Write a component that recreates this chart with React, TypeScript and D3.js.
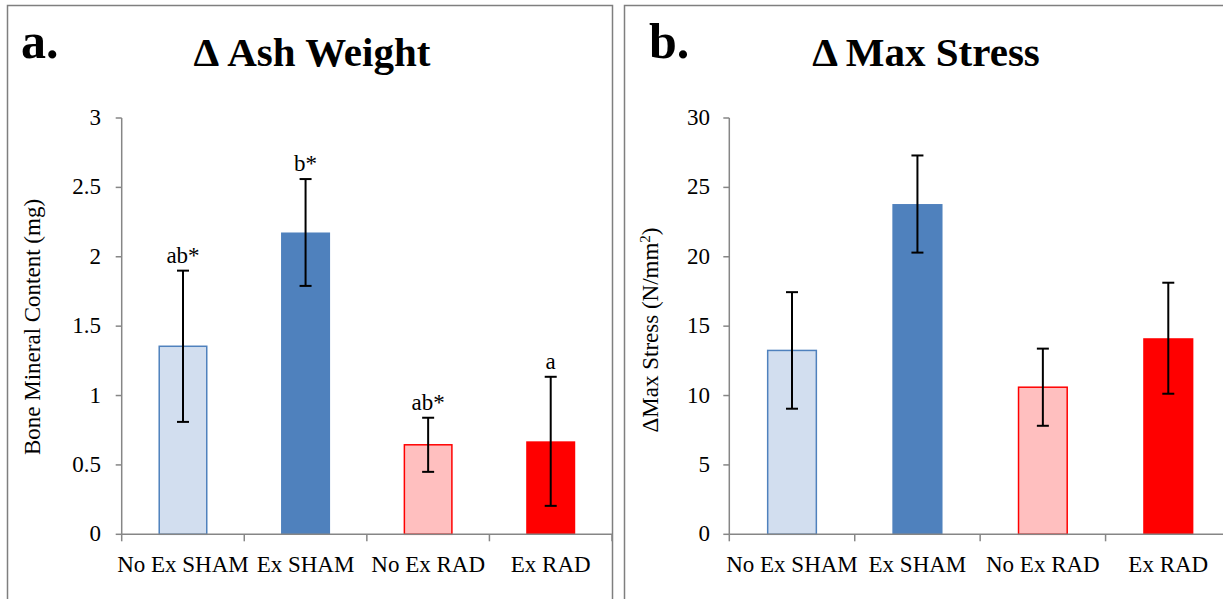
import React from "react";
import * as d3 from "d3";

const categories = ["No Ex SHAM", "Ex SHAM", "No Ex RAD", "Ex RAD"];
const ashValues = [1.355, 2.175, 0.645, 0.67];
const ashErrors = [0.545, 0.385, 0.195, 0.465];
const ashLabels = ["ab*", "b*", "ab*", "a"];
const ashTicks = [0, 0.5, 1, 1.5, 2, 2.5, 3];
const stressValues = [13.25, 23.8, 10.6, 14.13];
const stressErrors = [4.2, 3.5, 2.78, 4.0];
const stressTicks = [0, 5, 10, 15, 20, 25, 30];

const fills = ["#D2DEEF", "#4F81BD", "#FFBFBF", "#FF0000"];
const strokes = ["#4F81BD", "#4F81BD", "#FF0000", "#FF0000"];

const FONT = "Liberation Serif, Tinos, Times New Roman, Times, DejaVu Serif, serif";
const AXIS = "#868686";

type PanelProps = {
  x0: number;
  x1: number;
  yMax: number;
  ticks: number[];
  values: number[];
  errors: number[];
  labels?: string[];
  letter: string;
  letterX: number;
  title: string;
  titleX: number;
  yTitle: React.ReactNode;
  yTitleX: number;
  yTitleY: number;
  labelRight: number;
};

function Panel(p: PanelProps) {
  const top = 118;
  const bottom = 534.3;
  const y = d3.scaleLinear().domain([0, p.yMax]).range([bottom, top]);
  const x = d3
    .scaleBand<string>()
    .domain(categories)
    .range([p.x0, p.x1])
    .paddingInner(0.6)
    .paddingOuter(0.3);
  const step = x.step();
  const boundaries = d3.range(categories.length + 1).map((i) => p.x0 + i * step);
  return (
    <g style={{ fontFamily: FONT }}>
      <text x={p.letterX} y={58} fontWeight="bold" fontSize={50}>
        {p.letter}
      </text>
      <text x={p.titleX} y={66} fontWeight="bold" fontSize={41} textAnchor="middle">
        {p.title}
      </text>
      <text
        transform={`translate(${p.yTitleX},${p.yTitleY}) rotate(-90)`}
        fontSize={23}
        textAnchor="middle"
      >
        {p.yTitle}
      </text>
      {p.ticks.map((t) => (
        <g key={t}>
          <line x1={p.x0 - 6} x2={p.x0} y1={y(t)} y2={y(t)} stroke={AXIS} strokeWidth={1.5} />
          <text x={p.labelRight} y={y(t) + 7} fontSize={23} textAnchor="end">
            {String(t)}
          </text>
        </g>
      ))}
      <line x1={p.x0} x2={p.x0} y1={top} y2={bottom} stroke={AXIS} strokeWidth={1.5} />
      {categories.map((c, i) => {
        const bx = x(c)!;
        const bw = x.bandwidth();
        const cx = bx + bw / 2;
        const v = p.values[i];
        const e = p.errors[i];
        const sw = i % 2 === 0 ? 1.5 : 0;
        return (
          <g key={c}>
            <rect
              x={bx + sw / 2}
              y={y(v)}
              width={bw - sw}
              height={y(0) - y(v)}
              fill={fills[i]}
              stroke={sw ? strokes[i] : "none"}
              strokeWidth={sw}
            />
            <line x1={cx} x2={cx} y1={y(v + e)} y2={y(v - e)} stroke="#000" strokeWidth={2} />
            <line x1={cx - 6} x2={cx + 6} y1={y(v + e)} y2={y(v + e)} stroke="#000" strokeWidth={2} />
            <line x1={cx - 6} x2={cx + 6} y1={y(v - e)} y2={y(v - e)} stroke="#000" strokeWidth={2} />
            {p.labels && (
              <text x={cx} y={y(v + e) - 8} fontSize={23} textAnchor="middle">
                {p.labels[i]}
              </text>
            )}
            <text x={cx} y={572} fontSize={23} textAnchor="middle">
              {c}
            </text>
          </g>
        );
      })}
      <line x1={p.x0} x2={p.x1} y1={bottom} y2={bottom} stroke={AXIS} strokeWidth={1.5} />
      {boundaries.map((b, i) => (
        <line key={i} x1={b} x2={b} y1={bottom} y2={bottom + 7} stroke={AXIS} strokeWidth={1.5} />
      ))}
    </g>
  );
}

export default function App() {
  return (
    <svg
      width={1223}
      height={599}
      style={{ position: "absolute", left: 0, top: 0, background: "#fff" }}
    >
      <rect x={0} y={0} width={1223} height={599} fill="#fff" />
      <rect x={7.5} y={5.5} width={605} height={600} fill="none" stroke="#7F7F7F" strokeWidth={1.5} />
      <rect x={624.5} y={5.5} width={605} height={600} fill="none" stroke="#7F7F7F" strokeWidth={1.5} />
      <Panel
        x0={121.7}
        x1={612}
        yMax={3}
        ticks={ashTicks}
        values={ashValues}
        errors={ashErrors}
        labels={ashLabels}
        letter="a."
        letterX={21}
        title="Δ Ash Weight"
        titleX={312}
        yTitle="Bone Mineral Content (mg)"
        yTitleX={40}
        yTitleY={327}
        labelRight={101}
      />
      <Panel
        x0={729.3}
        x1={1231}
        yMax={30}
        ticks={stressTicks}
        values={stressValues}
        errors={stressErrors}
        letter="b."
        letterX={649}
        title="Δ Max Stress"
        titleX={926}
        yTitle={
          <>
            ΔMax Stress (N/mm
            <tspan dy={-8} fontSize={15}>2</tspan>
            <tspan dy={8}>)</tspan>
          </>
        }
        yTitleX={658}
        yTitleY={330}
        labelRight={710}
      />
    </svg>
  );
}
